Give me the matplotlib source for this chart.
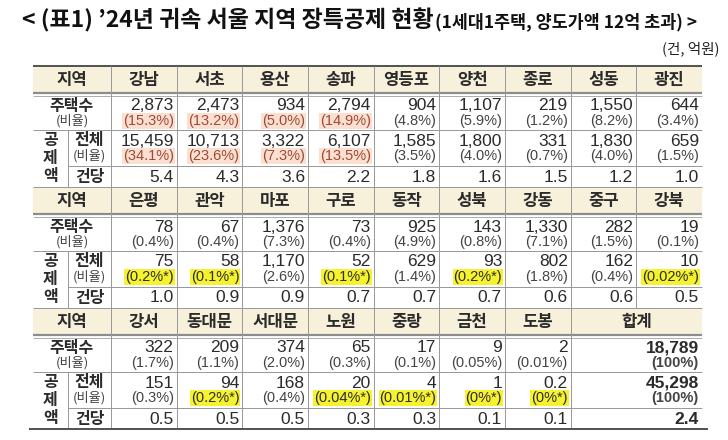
import matplotlib
matplotlib.use("Agg")
import matplotlib.pyplot as plt
from matplotlib.patches import Rectangle

KR = ["Noto Sans CJK KR", "DejaVu Sans"]
NUM = ["Liberation Sans", "Noto Sans CJK KR", "DejaVu Sans"]

# ---- data (건, 억원) ----
regions_1 = ["강남", "서초", "용산", "송파", "영등포", "양천", "종로", "성동", "광진"]
houses_1 = [2873, 2473, 934, 2794, 904, 1107, 219, 1550, 644]
house_share_1 = ["15.3%", "13.2%", "5.0%", "14.9%", "4.8%", "5.9%", "1.2%", "8.2%", "3.4%"]
deduction_1 = [15459, 10713, 3322, 6107, 1585, 1800, 331, 1830, 659]
deduction_share_1 = ["34.1%", "23.6%", "7.3%", "13.5%", "3.5%", "4.0%", "0.7%", "4.0%", "1.5%"]
per_house_1 = [5.4, 4.3, 3.6, 2.2, 1.8, 1.6, 1.5, 1.2, 1.0]

regions_2 = ["은평", "관악", "마포", "구로", "동작", "성북", "강동", "중구", "강북"]
houses_2 = [78, 67, 1376, 73, 925, 143, 1330, 282, 19]
house_share_2 = ["0.4%", "0.4%", "7.3%", "0.4%", "4.9%", "0.8%", "7.1%", "1.5%", "0.1%"]
deduction_2 = [75, 58, 1170, 52, 629, 93, 802, 162, 10]
deduction_share_2 = ["0.2%*", "0.1%*", "2.6%", "0.1%*", "1.4%", "0.2%*", "1.8%", "0.4%", "0.02%*"]
per_house_2 = [1.0, 0.9, 0.9, 0.7, 0.7, 0.7, 0.6, 0.6, 0.5]

regions_3 = ["강서", "동대문", "서대문", "노원", "중랑", "금천", "도봉", "합계"]
houses_3 = [322, 209, 374, 65, 17, 9, 2, 18789]
house_share_3 = ["1.7%", "1.1%", "2.0%", "0.3%", "0.1%", "0.05%", "0.01%", "100%"]
deduction_3 = [151, 94, 168, 20, 4, 1, 0.2, 45298]
deduction_share_3 = ["0.3%", "0.2%*", "0.4%", "0.04%*", "0.01%*", "0%*", "0%*", "100%"]
per_house_3 = [0.5, 0.5, 0.5, 0.3, 0.3, 0.1, 0.1, 2.4]

top_regions = ["강남", "서초", "용산", "송파"]  # pink-marked districts

title_main = "< (표1) ’24년 귀속 서울 지역 장특공제 현황"
title_sub = "(1세대1주택, 양도가액 12억 초과) >"
unit_note = "(건, 억원)"

sections = [
    (regions_1, houses_1, house_share_1, deduction_1, deduction_share_1, per_house_1),
    (regions_2, houses_2, house_share_2, deduction_2, deduction_share_2, per_house_2),
    (regions_3, houses_3, house_share_3, deduction_3, deduction_share_3, per_house_3),
]

# ---- layout (pixels) ----
X0, XIN, XL, XR = 33, 68, 111, 702
NCOL = 9
COLW = (XR - XL) / NCOL
SEC_TOP = [66, 187, 308]
H_HEAD, H_GAP, H_HOUSE, H_DED, H_PER = 27, 2, 35, 36, 21

CREAM = "#f7f0da"
GRID = "#9a9a9a"
DARK = "#555555"
TXT = "#2b2b2b"
PINK_BG = "#fbe0d2"
PINK_TX = "#a04a35"
YEL = "#f6f32e"

fig = plt.figure(figsize=(7.28, 4.4), dpi=100)
ax = fig.add_axes([0, 0, 1, 1])
ax.set_xlim(0, 728)
ax.set_ylim(440, 0)
ax.axis("off")

PX = 0.72  # points per pixel


def hline(y, x0, x1, w=1.0, c=GRID):
    ax.plot([x0, x1], [y, y], color=c, lw=w * PX, solid_capstyle="butt")


def vline(x, y0, y1, w=1.0, c=GRID):
    ax.plot([x, x], [y0, y1], color=c, lw=w * PX, solid_capstyle="butt")


def fmt_num(v):
    return f"{v:,}" if isinstance(v, int) else str(v)


def pct_box(s, name):
    if "*" in s:
        return YEL, TXT
    if name in top_regions:
        return PINK_BG, PINK_TX
    return None, "#444444"


# ---- title ----
t1 = ax.text(22, 27, title_main, fontsize=16.5, fontweight="bold", family=KR,
             ha="left", va="baseline", color="#111111")
fig.canvas.draw()
r = fig.canvas.get_renderer()
bb = t1.get_window_extent(r)
x_end = bb.x1  # display px == data px here
ax.text(x_end + 1, 27, title_sub, fontsize=12.5, fontweight="bold", family=KR,
        ha="left", va="baseline", color="#111111")
ax.text(720, 49, unit_note, fontsize=10.5, family=KR, ha="right", va="center", color="#222222")

# ---- table ----
for s, (regs, houses, hshare, ded, dshare, per) in enumerate(sections):
    t = SEC_TOP[s]
    yh = t + H_HEAD
    r1 = yh + H_GAP
    r2 = r1 + H_HOUSE
    r3 = r2 + H_DED
    r4 = r3 + H_PER

    ax.add_patch(Rectangle((X0, t), XR - X0, H_HEAD, facecolor=CREAM, edgecolor="none"))
    if s == 0:
        hline(t, X0, XR, 2.0, DARK)
    else:
        hline(t, X0, XR, 1.0, GRID)
    hline(yh + 0.5, X0, XR, 2.2, "#8c8c8c")
    hline(yh + 2.6, X0, XR, 0.8, GRID)
    hline(r2, X0, XR, 1.0)
    hline(r3, XIN, XR, 1.0)

    vline(XL, t, r4)
    vline(XIN, r2, r4)

    # row labels
    ax.text((X0 + XL) / 2, t + H_HEAD / 2 + 0.5, "지역", family=KR, fontsize=12,
            fontweight="bold", ha="center", va="center", color=TXT)
    ax.text((X0 + XL) / 2, r1 + 11, "주택수", family=KR, fontsize=11.5,
            fontweight="bold", ha="center", va="center", color=TXT)
    ax.text((X0 + XL) / 2, r1 + 26, "(비율)", family=KR, fontsize=9.5,
            ha="center", va="center", color="#444444")
    for k, ch in enumerate("공제액"):
        ax.text((X0 + XIN) / 2, r2 + 10 + k * 18, ch, family=KR, fontsize=11.5,
                fontweight="bold", ha="center", va="center", color=TXT)
    ax.text((XIN + XL) / 2, r2 + 10, "전체", family=KR, fontsize=11.5,
            fontweight="bold", ha="center", va="center", color=TXT)
    ax.text((XIN + XL) / 2, r2 + 26, "(비율)", family=KR, fontsize=9.5,
            ha="center", va="center", color="#444444")
    ax.text((XIN + XL) / 2, r3 + H_PER / 2 + 0.5, "건당", family=KR, fontsize=11.5,
            fontweight="bold", ha="center", va="center", color=TXT)

    col = 0
    n = len(regs)
    for i in range(n):
        span = NCOL - n + 1 if i == n - 1 else 1
        cx0 = XL + col * COLW
        cx1 = XL + (col + span) * COLW
        col += span
        if col < NCOL:
            vline(cx1, t, r4)
        total = regs[i] == "합계"
        wt = "bold" if total else "normal"
        xr = cx1 - 3

        ax.text((cx0 + cx1) / 2, t + H_HEAD / 2 + 0.5, regs[i], family=KR, fontsize=12,
                fontweight="bold", ha="center", va="center", color=TXT)

        ax.text(xr, r1 + 11, fmt_num(houses[i]), family=NUM, fontsize=12.5,
                fontweight=wt, ha="right", va="center", color=TXT)
        bg, fc = pct_box(hshare[i], regs[i])
        tx = ax.text(xr, r1 + 26, f"({hshare[i]})", family=NUM, fontsize=10.5,
                     fontweight=wt, ha="right", va="center", color=fc)
        if bg:
            tx.set_bbox(dict(facecolor=bg, edgecolor="none", pad=0.6))

        ax.text(xr, r2 + 11, fmt_num(ded[i]), family=NUM, fontsize=12.5,
                fontweight=wt, ha="right", va="center", color=TXT)
        bg, fc = pct_box(dshare[i], regs[i])
        tx = ax.text(xr, r2 + 26, f"({dshare[i]})", family=NUM, fontsize=10.5,
                     fontweight=wt, ha="right", va="center", color=fc)
        if bg:
            tx.set_bbox(dict(facecolor=bg, edgecolor="none", pad=0.6))

        ax.text(xr, r3 + H_PER / 2 + 0.5, f"{per[i]:.1f}", family=NUM, fontsize=12.5,
                fontweight=wt, ha="right", va="center", color=TXT)

hline(SEC_TOP[2] + H_HEAD + H_GAP + H_HOUSE + H_DED + H_PER, 29, 708, 2.0, DARK)

fig.savefig("out.png", dpi=100)
